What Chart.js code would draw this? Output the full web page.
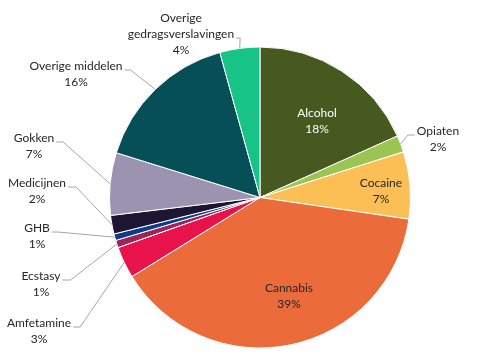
<!DOCTYPE html>
<html>
<head>
<meta charset="utf-8">
<script src="https://cdn.jsdelivr.net/npm/chart.js@4.4.1/dist/chart.umd.min.js"></script>
<style>
  html, body { margin: 0; padding: 0; background: #fff; }
</style>
</head>
<body>
<canvas id="pie" width="486" height="364"></canvas>
<script>
// ====== Data ======
const categories = ['Alcohol', 'Opiaten', 'Cocaine', 'Cannabis', 'Amfetamine', 'Ecstasy', 'GHB', 'Medicijnen', 'Gokken', 'Overige middelen', 'Overige gedragsverslavingen'];
const shares = [18.3, 1.8, 7.2, 38.9, 3.4, 0.8, 0.7, 2.0, 6.7, 15.9, 4.3];
const labelText = [['Alcohol'], ['Opiaten'], ['Cocaine'], ['Cannabis'], ['Amfetamine'], ['Ecstasy'], ['GHB'], ['Medicijnen'], ['Gokken'], ['Overige middelen'], ['Overige', 'gedragsverslavingen']];

// ====== Styling / label placement ======
const sliceColors = ['#465a20', '#9bc553', '#fbbf55', '#ec6b3b', '#e9134b', '#9e2457', '#0c3c8c', '#1c1633', '#9b93b0', '#064f57', '#17c387'];
// text block centre (first line) + which side the leader leaves from
const labelLayout = [
    { x: 317, y: 113, color: '#ffffff' },
    { x: 438, y: 131, leader: 'right', stub: 7 },
    { x: 381, y: 183 },
    { x: 289, y: 288 },
    { x: 39, y: 323, leader: 'left', stub: 7 },
    { x: 41, y: 276, leader: 'left', stub: 8 },
    { x: 37, y: 228, leader: 'left', stub: 6 },
    { x: 37, y: 183, leader: 'left', stub: 8 },
    { x: 34, y: 138, leader: 'left', stub: 7 },
    { x: 76, y: 66, leader: 'left', stub: 6 },
    { x: 181, y: 18, leader: 'left', stub: 4, anchorLine: 1 }
];
const lineH = 16;

const pieLabels = {
    id: 'pieLabels',
    afterDatasetsDraw(chart) {
        const ctx = chart.ctx;
        const meta = chart.getDatasetMeta(0);
        const total = shares.reduce((a, b) => a + b, 0);
        ctx.save();
        ctx.font = '12px Lato, "Open Sans", sans-serif';
        ctx.textAlign = 'center';
        ctx.textBaseline = 'middle';
        meta.data.forEach((arc, i) => {
            const p = arc.getProps(['x', 'y', 'startAngle', 'endAngle', 'outerRadius'], true);
            const lay = labelLayout[i];
            const lines = labelText[i].concat([Math.round(shares[i] / total * 100) + '%']);
            ctx.fillStyle = lay.color || '#262626';
            lines.forEach((t, k) => ctx.fillText(t, lay.x, lay.y + k * lineH));
            if (!lay.leader) return;
            // leader: short horizontal stub from the text, then to the slice edge
            const mid = (p.startAngle + p.endAngle) / 2;
            const ex = p.x + Math.cos(mid) * p.outerRadius;
            const ey = p.y + Math.sin(mid) * p.outerRadius;
            const li = lay.anchorLine || 0;
            const w = ctx.measureText(lines[li]).width;
            const ay = lay.y + li * lineH + 4;
            const ax = lay.leader === 'left' ? lay.x + w / 2 + 2 : lay.x - w / 2 - 2;
            const sx = lay.leader === 'left' ? ax + lay.stub : ax - lay.stub;
            ctx.strokeStyle = '#a6a6a6';
            ctx.lineWidth = 1;
            ctx.beginPath();
            ctx.moveTo(ax, ay);
            ctx.lineTo(sx, ay);
            ctx.lineTo(ex, ey);
            ctx.stroke();
        });
        ctx.restore();
    }
};

new Chart(document.getElementById('pie').getContext('2d'), {
    type: 'pie',
    data: {
        labels: categories,
        datasets: [{ data: shares, backgroundColor: sliceColors, borderColor: '#ffffff', borderWidth: 1 }]
    },
    options: {
        responsive: false,
        animation: false,
        layout: { padding: { left: 109, right: 75, top: 46.5, bottom: 15.5 } },
        plugins: { legend: { display: false }, tooltip: { enabled: false } }
    },
    plugins: [pieLabels]
});
</script>
</body>
</html>
